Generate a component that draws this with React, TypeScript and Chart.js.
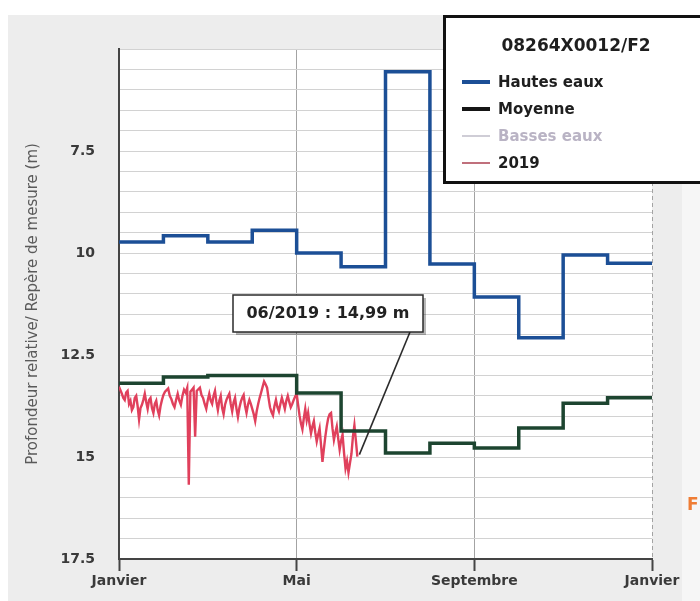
import React, { useEffect, useRef } from 'react';
import { Chart, registerables } from 'chart.js';

Chart.register(...registerables);

// ---- data ----
const monthTickPositions = [0, 4, 8, 12];
const monthTickLabels = ['Janvier', 'Mai', 'Septembre', 'Janvier'];
const monthLengths2019 = [31, 28, 31, 30, 31, 30, 31, 31, 30, 31, 30, 31];

const hautesEaux = [9.73, 9.58, 9.73, 9.44, 10.0, 10.34, 5.56, 10.27, 11.08, 12.08, 10.05, 10.25];
const moyenne = [13.19, 13.04, 13.0, 13.0, 13.43, 14.36, 14.9, 14.66, 14.78, 14.29, 13.68, 13.55];
const bassesEaux: number[] = [];

// daily readings of 2019, starting on 1 January (day 0)
const values2019 = [
  13.28, 13.36, 13.45, 13.55, 13.6, 13.42, 13.38, 13.7, 13.62, 13.85,
  13.78, 13.55, 13.5, 13.75, 14.08, 13.8, 13.72, 13.6, 13.45, 13.65,
  13.82, 13.6, 13.55, 13.8, 13.92, 13.7, 13.62, 13.85, 13.98, 13.75,
  13.6, 13.48, 13.4, 13.36, 13.32, 13.5, 13.58, 13.7, 13.78, 13.6,
  13.45, 13.62, 13.72, 13.5, 13.35, 13.42, 13.3, 15.68, 13.4, 13.35,
  13.3, 14.5, 13.38, 13.34, 13.3, 13.48, 13.55, 13.7, 13.82, 13.6,
  13.45, 13.62, 13.7, 13.5, 13.38, 13.65, 13.85, 13.62, 13.5, 13.8,
  13.95, 13.72, 13.6, 13.52, 13.45, 13.7, 13.88, 13.66, 13.55, 13.82,
  14.02, 13.8, 13.65, 13.55, 13.48, 13.75, 13.92, 13.72, 13.6, 13.7,
  13.82, 13.95, 14.12, 13.88, 13.7, 13.55, 13.42, 13.28, 13.15, 13.22,
  13.3, 13.55, 13.78, 13.9, 13.98, 13.75, 13.6, 13.78, 13.88, 13.7,
  13.55, 13.68, 13.82, 13.62, 13.5, 13.65, 13.78, 13.7, 13.6, 13.52,
  13.45, 13.72, 13.98, 14.18, 14.32, 14.05, 13.82, 14.1, 13.92, 14.2,
  14.42, 14.25, 14.12, 14.4, 14.62, 14.45, 14.3, 14.7, 15.12, 14.8,
  14.5, 14.25, 14.05, 13.95, 13.92, 14.3, 14.58, 14.4, 14.25, 14.55,
  14.82, 14.6, 14.45, 14.9, 15.28, 15.1, 15.38, 15.15, 14.92, 14.5,
  14.22, 14.6, 14.99,
];

const stationName = '08264X0012/F2';
const legendLabels = ['Hautes eaux', 'Moyenne', 'Basses eaux', '2019'];
const annotationText = '06/2019 : 14,99 m';
const yAxisTitle = 'Profondeur relative/ Repère de mesure (m)';
const sideLetter = 'F';

// ---- helpers ----
function dayToMonthPos(day: number): number {
  let d = day;
  let m = 0;
  while (m < 11 && d >= monthLengths2019[m]) {
    d -= monthLengths2019[m];
    m++;
  }
  return m + d / monthLengths2019[m];
}

function monthlySteps(vals: number[]) {
  const pts = vals.map((v, i) => ({ x: i, y: v }));
  if (vals.length) pts.push({ x: vals.length, y: vals[vals.length - 1] });
  return pts;
}

const FONT = '"DejaVu Sans", sans-serif';

const backgroundPlugin = {
  id: 'bgPlugin',
  beforeDraw(chart: any) {
    const { ctx, chartArea } = chart;
    ctx.save();
    ctx.fillStyle = '#ffffff';
    ctx.fillRect(0, 0, chart.width, chart.height);
    ctx.fillStyle = '#ededed';
    ctx.fillRect(8, 15, 674, chart.height - 15);
    ctx.fillStyle = '#f6f6f6';
    ctx.fillRect(682, 15, chart.width - 682, chart.height - 15);
    ctx.fillStyle = '#ffffff';
    ctx.fillRect(chartArea.left, chartArea.top, chartArea.right - chartArea.left, chartArea.bottom - chartArea.top);
    ctx.restore();
  },
};

const overlayPlugin = {
  id: 'overlayPlugin',
  afterDraw(chart: any) {
    const { ctx } = chart;
    const xs = chart.scales.x;
    const ys = chart.scales.y;
    ctx.save();

    // annotation connector
    const lastIdx = values2019.length - 1;
    const px = xs.getPixelForValue(dayToMonthPos(lastIdx));
    const py = ys.getPixelForValue(values2019[lastIdx]);
    ctx.strokeStyle = '#2b2b2b';
    ctx.lineWidth = 1.6;
    ctx.beginPath();
    ctx.moveTo(410, 332);
    ctx.lineTo(px + 2, py - 2);
    ctx.stroke();

    // annotation box
    ctx.fillStyle = 'rgba(0,0,0,0.28)';
    ctx.fillRect(236, 298, 190, 37);
    ctx.fillStyle = '#ffffff';
    ctx.fillRect(233, 295, 190, 37);
    ctx.strokeStyle = '#2b2b2b';
    ctx.lineWidth = 1.5;
    ctx.strokeRect(233, 295, 190, 37);
    ctx.fillStyle = '#222222';
    ctx.font = 'bold 16px ' + FONT;
    ctx.textAlign = 'center';
    ctx.textBaseline = 'middle';
    ctx.fillText(annotationText, 328, 314);

    // legend box
    ctx.fillStyle = '#ffffff';
    ctx.fillRect(444, 16, 262, 166);
    ctx.strokeStyle = '#111111';
    ctx.lineWidth = 3;
    ctx.strokeRect(444.5, 16.5, 262, 166);
    ctx.fillStyle = '#1e1e1e';
    ctx.font = 'bold 17px ' + FONT;
    ctx.textAlign = 'center';
    ctx.fillText(stationName, 576, 47);

    const rowsY = [82, 109, 136, 163];
    const swatchColors = ['#1c4f96', '#151515', '#cfcdd6', '#c0707c'];
    const swatchWidths = [4, 4, 2, 2];
    const textColors = ['#1e1e1e', '#1e1e1e', '#b9b3c4', '#1e1e1e'];
    ctx.textAlign = 'left';
    ctx.font = 'bold 15px ' + FONT;
    legendLabels.forEach((label, i) => {
      ctx.strokeStyle = swatchColors[i];
      ctx.lineWidth = swatchWidths[i];
      ctx.beginPath();
      ctx.moveTo(462, rowsY[i]);
      ctx.lineTo(490, rowsY[i]);
      ctx.stroke();
      ctx.fillStyle = textColors[i];
      ctx.fillText(label, 498, rowsY[i] + 1);
    });

    // side letter
    ctx.fillStyle = '#ef7d35';
    ctx.font = 'bold 17px ' + FONT;
    ctx.textAlign = 'left';
    ctx.fillText(sideLetter, 687, 506);

    ctx.restore();
  },
};

export default function App() {
  const canvasRef = useRef<HTMLCanvasElement | null>(null);

  useEffect(() => {
    if (!canvasRef.current) return;
    const redPoints = values2019.map((v, d) => ({ x: dayToMonthPos(d), y: v }));

    const chart = new Chart(canvasRef.current, {
      type: 'line',
      data: {
        datasets: [
          {
            label: legendLabels[0],
            data: monthlySteps(hautesEaux),
            stepped: 'before',
            borderColor: '#1c4f96',
            borderWidth: 3.5,
            pointRadius: 0,
          },
          {
            label: legendLabels[1],
            data: monthlySteps(moyenne),
            stepped: 'before',
            borderColor: '#1d4530',
            borderWidth: 3.5,
            pointRadius: 0,
          },
          {
            label: legendLabels[2],
            data: monthlySteps(bassesEaux),
            stepped: 'before',
            borderColor: '#cfcdd6',
            borderWidth: 2,
            pointRadius: 0,
          },
          {
            label: legendLabels[3],
            data: redPoints,
            borderColor: '#e0405c',
            borderWidth: 2.4,
            pointRadius: 0,
            tension: 0,
          },
        ],
      },
      options: {
        responsive: false,
        maintainAspectRatio: false,
        animation: false,
        layout: { padding: { top: 49, right: 48, left: 0, bottom: 0 } },
        plugins: {
          legend: { display: false },
          tooltip: { enabled: false },
        },
        scales: {
          x: {
            type: 'linear',
            min: 0,
            max: 12,
            afterBuildTicks: (s: any) => {
              s.ticks = monthTickPositions.map((v) => ({ value: v }));
            },
            afterFit: (s: any) => {
              s.height = 42;
            },
            ticks: {
              autoSkip: false,
              maxRotation: 0,
              padding: 2,
              color: '#3a3a3a',
              font: { family: FONT, size: 14, weight: 'bold' },
              callback: (v: any) => {
                const i = monthTickPositions.indexOf(Number(v));
                return i >= 0 ? monthTickLabels[i] : '';
              },
            },
            grid: {
              color: (c: any) => (c.index === 0 ? 'rgba(0,0,0,0)' : '#a3a3a3'),
              lineWidth: 1,
              drawTicks: true,
              tickLength: 12,
              tickColor: '#444444',
              tickWidth: 2,
            },
            border: {
              display: true,
              color: '#444444',
              width: 2,
              dash: (c: any) => (c && c.tick && c.tick.value === 12 ? [4, 3] : []),
            },
          },
          y: {
            type: 'linear',
            reverse: true,
            min: 5,
            max: 17.5,
            afterFit: (s: any) => {
              s.width = 119;
            },
            ticks: {
              stepSize: 0.5,
              autoSkip: false,
              padding: 24,
              color: '#3a3a3a',
              font: { family: FONT, size: 14, weight: 'bold' },
              callback: (v: any) => {
                const n = Number(v);
                const r = n / 2.5;
                return Math.abs(r - Math.round(r)) < 1e-6 && n > 5.01 ? String(n) : '';
              },
            },
            grid: {
              color: '#d2d2d2',
              lineWidth: 1,
              drawTicks: false,
            },
            border: { display: true, color: '#444444', width: 2 },
            title: {
              display: true,
              text: yAxisTitle,
              color: '#5a5a5a',
              font: { family: FONT, size: 15 },
              padding: { top: 24, bottom: 0 },
            },
          },
        },
      } as any,
      plugins: [backgroundPlugin, overlayPlugin],
    });

    return () => {
      chart.destroy();
    };
  }, []);

  return (
    <div style={{ position: 'absolute', left: 0, top: 0, width: 700, height: 601 }}>
      <canvas ref={canvasRef} width={700} height={601} style={{ display: 'block' }} />
    </div>
  );
}
